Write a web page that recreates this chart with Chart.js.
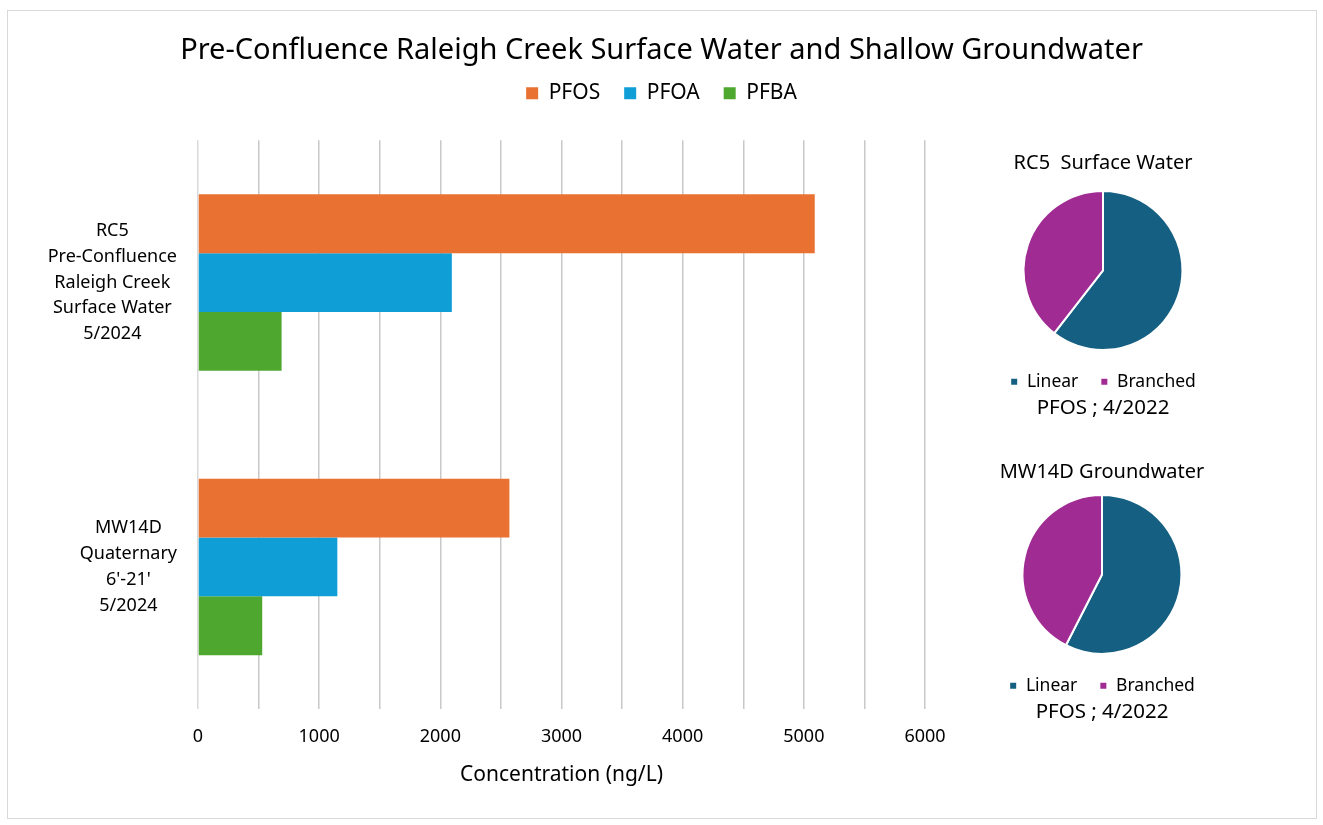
<!DOCTYPE html>
<html>
<head>
<meta charset="utf-8">
<script src="https://cdn.jsdelivr.net/npm/chart.js@4/dist/chart.umd.min.js"></script>
<style>
  body { margin: 0; background: #fff; }
  #frame { position: absolute; left: 7px; top: 10px; width: 1308px; height: 807px; border: 1px solid #d9d9d9; }
  canvas { position: absolute; }
  #barChart { left: 0; top: 0; }
  #pieRC5 { left: 983px; top: 141px; }
  #pieMW14D { left: 982px; top: 445px; }
</style>
</head>
<body>
<div id="frame"></div>
<canvas id="barChart" width="1323" height="825"></canvas>
<canvas id="pieRC5" width="240" height="290"></canvas>
<canvas id="pieMW14D" width="240" height="290"></canvas>
<script>
var categories = [
  ['RC5', 'Pre-Confluence', 'Raleigh Creek', 'Surface Water', '5/2024'],
  ['MW14D', 'Quaternary', "6'-21'", '5/2024']
];
var pfos = [5090, 2570];
var pfoa = [2095, 1150];
var pfba = [690, 530];
var xTicks = [0, 1000, 2000, 3000, 4000, 5000, 6000];

var pieLabels = ['Linear', 'Branched'];
var rc5Split = [60.5, 39.5];
var mw14dSplit = [57.5, 42.5];

Chart.defaults.font.family = "'Noto Sans', sans-serif";
Chart.defaults.color = '#000';

// empty axes only used to hold space (right for the pies, top under the legend)
function spacer(pos, size) {
  return {
    position: pos,
    type: 'linear',
    ticks: { display: false },
    grid: { display: false },
    border: { display: false },
    afterFit: function(s) {
      if (pos === 'top') s.height = size; else s.width = size;
    }
  };
}

// category labels like Excel: lines centred inside each block, blocks right aligned
var blockLabels = {
  id: 'blockLabels',
  afterDraw: function(chart) {
    var s = chart.scales.y;
    var ctx = chart.ctx;
    var lh = 25.8;
    ctx.save();
    ctx.font = "18px 'Noto Sans', sans-serif";
    ctx.fillStyle = '#000';
    ctx.textAlign = 'center';
    ctx.textBaseline = 'middle';
    categories.forEach(function(lines, i) {
      var w = Math.max.apply(null, lines.map(function(t) { return ctx.measureText(t).width; }));
      var cx = s.right - 21 - w / 2;
      var cy = s.getPixelForTick(i);
      lines.forEach(function(t, j) {
        ctx.fillText(t, cx, cy + (j - (lines.length - 1) / 2) * lh);
      });
    });
    ctx.restore();
  }
};

new Chart(document.getElementById('barChart'), {
  type: 'bar',
  data: {
    labels: categories,
    datasets: [
      { label: 'PFOS', backgroundColor: '#E97132', data: pfos },
      { label: 'PFOA', backgroundColor: '#0F9ED5', data: pfoa },
      { label: 'PFBA', backgroundColor: '#4EA72E', data: pfba }
    ]
  },
  options: {
    responsive: false,
    animation: false,
    indexAxis: 'y',
    barPercentage: 1,
    categoryPercentage: 0.62,
    layout: { padding: { bottom: 37 } },
    plugins: {
      title: {
        display: true,
        text: 'Pre-Confluence Raleigh Creek Surface Water and Shallow Groundwater',
        font: { size: 29, weight: 'normal' },
        padding: { top: 33, bottom: -9 }
      },
      legend: {
        labels: { boxWidth: 12, boxHeight: 12, padding: 24, font: { size: 21 } }
      },
      tooltip: { enabled: false }
    },
    scales: {
      x: {
        min: 0,
        max: 6000,
        ticks: {
          stepSize: 500,
          padding: 16.5,
          font: { size: 18 },
          callback: function(v) { return xTicks.indexOf(v) >= 0 ? String(v) : ''; }
        },
        grid: {
          color: function(c) { return c.index === 0 ? '#D9D9D9' : '#C8C8C8'; },
          lineWidth: 1.5,
          drawTicks: false
        },
        border: { display: false },
        title: { display: true, text: 'Concentration (ng/L)', font: { size: 21 }, padding: { top: -1, bottom: 0 } }
      },
      y: {
        ticks: { display: false },
        grid: { display: false },
        border: { display: false },
        afterFit: function(s) { s.width = 198; }
      },
      yRight: spacer('right', 398),
      xTop: spacer('top', 26.5)
    }
  },
  plugins: [blockLabels]
});

function pieOptions(title, shift) {
  return {
    responsive: false,
    animation: false,
    layout: { padding: { bottom: 11 } },
    plugins: {
      title: { display: true, text: title, font: { size: 20, weight: 'normal' }, padding: { top: 10 + shift, bottom: 15 - shift } },
      subtitle: { display: true, position: 'bottom', text: 'PFOS ; 4/2022', font: { size: 20.5 }, padding: { top: -5, bottom: 0 } },
      legend: {
        position: 'bottom',
        labels: { boxWidth: 8, boxHeight: 8, padding: 22, font: { size: 17.5 } }
      },
      tooltip: { enabled: false }
    }
  };
}

new Chart(document.getElementById('pieRC5'), {
  type: 'pie',
  data: {
    labels: pieLabels,
    datasets: [{ data: rc5Split, backgroundColor: ['#156082', '#A02B93'], borderColor: '#fff', borderWidth: 2 }]
  },
  options: pieOptions('RC5  Surface Water', 0)
});

new Chart(document.getElementById('pieMW14D'), {
  type: 'pie',
  data: {
    labels: pieLabels,
    datasets: [{ data: mw14dSplit, backgroundColor: ['#156082', '#A02B93'], borderColor: '#fff', borderWidth: 2 }]
  },
  options: pieOptions('MW14D Groundwater', 5)
});
</script>
</body>
</html>
